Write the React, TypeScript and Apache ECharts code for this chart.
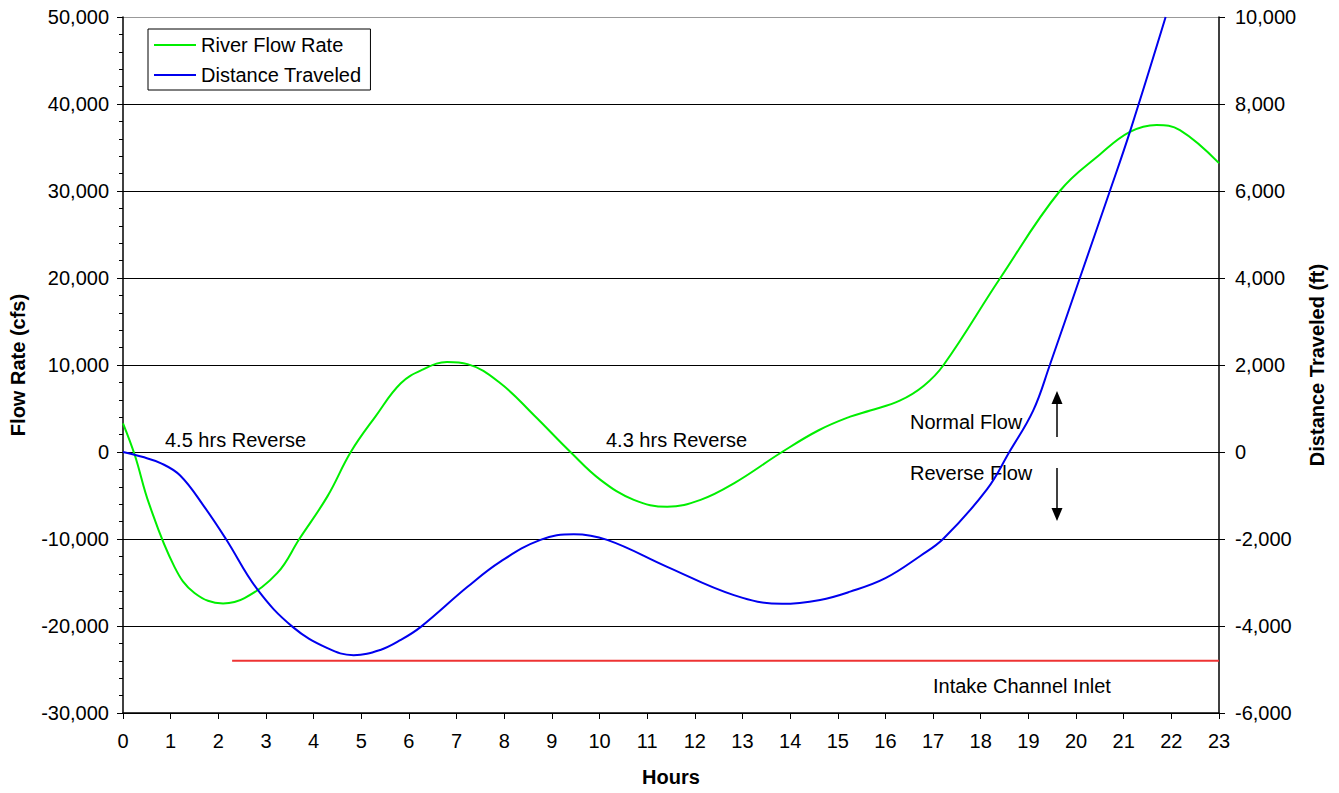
import React, { useEffect, useRef } from 'react';
import * as echarts from 'echarts';

const FONT = '"Liberation Sans", Arial, sans-serif';

// River flow rate (cfs) vs hours
const flowHours = [0, 0.25, 0.55, 1.08, 1.5, 2.1, 2.55, 3.24, 3.7, 4.29, 4.78, 5.3, 5.83, 6.3, 6.8, 7.23, 7.92, 8.62, 9.39, 10.02, 10.72, 11.42, 12.12, 12.82, 13.83, 14.6, 15.26, 15.68, 16.3, 16.8, 17.22, 18.41, 19.66, 20.5, 21.13, 21.69, 22.18, 23];
const flowValues = [3300, -400, -6000, -13200, -16200, -17400, -16800, -13900, -10000, -5100, 0, 4100, 7900, 9500, 10340, 10100, 7900, 4250, 0, -3200, -5500, -6300, -5500, -3600, 0, 2500, 4060, 4770, 5900, 7590, 10000, 20000, 30000, 34200, 36800, 37600, 37000, 33200];

// Distance traveled (ft) vs hours
const distHours = [0, 0.4, 0.8, 1.2, 1.7, 2.16, 2.82, 3.56, 4.29, 4.84, 5.4, 5.83, 6.25, 7.23, 7.92, 8.76, 9.46, 10.16, 11.42, 12.82, 13.83, 14.63, 15.26, 16.0, 16.73, 17.22, 18.13, 18.6, 19.1, 19.45, 20.08, 20.71, 21.13, 21.88];
const distValues = [0, -110, -260, -540, -1250, -2000, -3160, -4020, -4510, -4670, -4550, -4320, -4020, -3100, -2520, -2020, -1890, -2020, -2640, -3290, -3490, -3400, -3210, -2900, -2390, -1990, -860, 0, 950, 2000, 4000, 6000, 7360, 10000];

// Intake channel inlet level (cfs axis)
const intakeHours = [2.29, 23];
const intakeValues = [-24000, -24000];

const leftTicks = [-30000, -20000, -10000, 0, 10000, 20000, 30000, 40000, 50000];

const zip = (xs: number[], ys: number[]) => xs.map((x, i) => [x, ys[i]]);

export default function App() {
  const ref = useRef<HTMLDivElement>(null);
  useEffect(() => {
    const chart = echarts.init(ref.current!, undefined, { renderer: 'svg' });
    const lbl = { color: '#000', fontSize: 20, fontFamily: FONT };
    const fmt = (v: number) => v.toLocaleString('en-US');
    chart.setOption({
      animation: false,
      backgroundColor: '#fff',
      textStyle: { fontFamily: FONT },
      grid: { left: 122, right: 120, top: 17, bottom: 80, containLabel: false },
      legend: {
        orient: 'vertical',
        left: 148,
        top: 29,
        padding: [6, 9, 5, 6],
        itemGap: 10,
        itemWidth: 42,
        itemHeight: 2,
        icon: 'rect',
        backgroundColor: '#fff',
        borderColor: '#000',
        borderWidth: 1,
        textStyle: { ...lbl },
        data: ['River Flow Rate', 'Distance Traveled'],
      },
      xAxis: {
        type: 'value',
        min: 0,
        max: 23,
        interval: 1,
        name: 'Hours',
        nameLocation: 'middle',
        nameGap: 54,
        nameTextStyle: { color: '#000', fontSize: 20, fontWeight: 'bold', fontFamily: FONT },
        axisLine: { onZero: false, lineStyle: { color: '#000', width: 1.5 } },
        axisTick: { show: true, inside: false, length: 6, lineStyle: { color: '#000' } },
        axisLabel: { ...lbl, margin: 18, formatter: (v: number) => String(v) },
        splitLine: { show: false },
      },
      yAxis: [
        {
          type: 'value',
          position: 'left',
          min: -30000,
          max: 50000,
          interval: 10000,
          name: 'Flow Rate (cfs)',
          nameLocation: 'middle',
          nameGap: 95,
          nameTextStyle: { color: '#000', fontSize: 20, fontWeight: 'bold', fontFamily: FONT },
          axisLine: { show: true, onZero: false, lineStyle: { color: '#000', width: 1.5 } },
          axisTick: { show: true, inside: false, length: 6, lineStyle: { color: '#000' } },
          minorTick: { show: true, splitNumber: 5, length: 4, lineStyle: { color: '#000' } },
          axisLabel: { ...lbl, margin: 14, formatter: fmt },
          splitLine: {
            show: true,
            lineStyle: { color: leftTicks.map((t) => (t === 50000 ? '#999' : '#000')), width: 1 },
          },
        },
        {
          type: 'value',
          position: 'right',
          min: -6000,
          max: 10000,
          interval: 2000,
          name: 'Distance Traveled (ft)',
          nameLocation: 'middle',
          nameRotate: 90,
          nameGap: 86,
          nameTextStyle: { color: '#000', fontSize: 20, fontWeight: 'bold', fontFamily: FONT },
          axisLine: { show: true, onZero: false, lineStyle: { color: '#000', width: 1.5 } },
          axisTick: { show: true, inside: false, length: 6, lineStyle: { color: '#000' } },
          axisLabel: { ...lbl, margin: 16, formatter: fmt },
          splitLine: { show: false },
        },
      ],
      series: [
        {
          name: 'River Flow Rate',
          type: 'line',
          yAxisIndex: 0,
          data: zip(flowHours, flowValues),
          smooth: 0.4,
          symbol: 'none',
          lineStyle: { color: '#00ee00', width: 2 },
          itemStyle: { color: '#00ee00' },
          clip: true,
          z: 3,
        },
        {
          name: 'Distance Traveled',
          type: 'line',
          yAxisIndex: 1,
          data: zip(distHours, distValues),
          smooth: 0.4,
          symbol: 'none',
          lineStyle: { color: '#0000ee', width: 2 },
          itemStyle: { color: '#0000ee' },
          clip: true,
          z: 4,
        },
        {
          name: 'Intake Channel Inlet',
          type: 'line',
          yAxisIndex: 0,
          data: zip(intakeHours, intakeValues),
          symbol: 'none',
          lineStyle: { color: '#ee3333', width: 2 },
          itemStyle: { color: '#ee3333' },
          z: 2,
        },
      ],
      graphic: [
        { type: 'text', x: 165, y: 440, style: { text: '4.5 hrs Reverse', fill: '#000', font: `20px ${FONT}`, verticalAlign: 'middle' } },
        { type: 'text', x: 606, y: 440, style: { text: '4.3 hrs Reverse', fill: '#000', font: `20px ${FONT}`, verticalAlign: 'middle' } },
        { type: 'text', x: 910, y: 422, style: { text: 'Normal Flow', fill: '#000', font: `20px ${FONT}`, verticalAlign: 'middle' } },
        { type: 'text', x: 910, y: 473, style: { text: 'Reverse Flow', fill: '#000', font: `20px ${FONT}`, verticalAlign: 'middle' } },
        { type: 'text', x: 933, y: 686, style: { text: 'Intake Channel Inlet', fill: '#000', font: `20px ${FONT}`, verticalAlign: 'middle' } },
        { type: 'line', shape: { x1: 1057, y1: 437, x2: 1057, y2: 402 }, style: { stroke: '#000', lineWidth: 1.5 } },
        { type: 'polygon', shape: { points: [[1057, 391], [1051.5, 404], [1062.5, 404]] }, style: { fill: '#000' } },
        { type: 'line', shape: { x1: 1057, y1: 468, x2: 1057, y2: 510 }, style: { stroke: '#000', lineWidth: 1.5 } },
        { type: 'polygon', shape: { points: [[1057, 521], [1051.5, 508], [1062.5, 508]] }, style: { fill: '#000' } },
      ],
    });
    return () => chart.dispose();
  }, []);
  return (
    <div
      ref={ref}
      style={{ position: 'fixed', left: 0, top: 0, width: 1339, height: 793, background: '#fff' }}
    />
  );
}
